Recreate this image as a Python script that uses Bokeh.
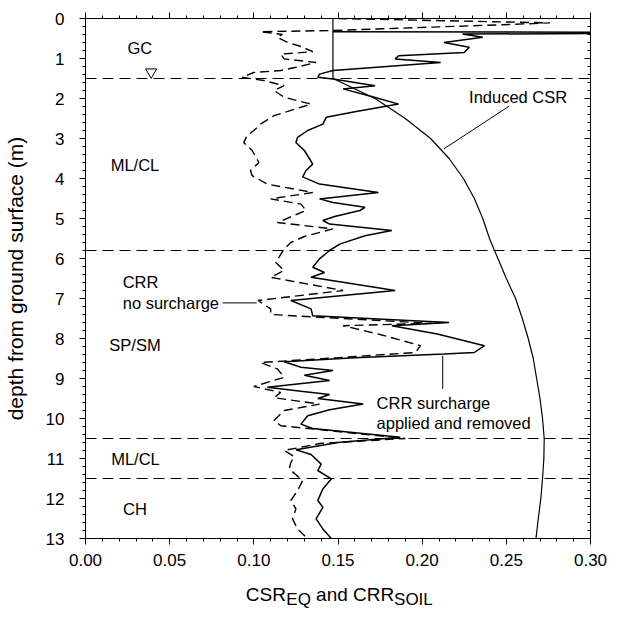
from bokeh.plotting import figure
from bokeh.layouts import column
from bokeh.models import (Range1d, LinearAxis, FixedTicker, NumeralTickFormatter,
                          CustomJSTickFormatter, Label, Span)
from bokeh.core.properties import value
from bokeh.embed import file_html
from bokeh.resources import INLINE

FONT = "Liberation Sans"

# ---------------- data ----------------
# CRR with surcharge applied and removed (solid)
crr_sur_depth = [0.33, 0.345, 0.37, 0.39, 0.47, 0.60, 0.72, 0.85, 0.93, 1.01, 1.10, 1.30, 1.39, 1.47,
                 1.51, 1.68, 1.76, 1.95, 2.14, 2.33, 2.47, 2.64, 2.80, 2.97, 3.10, 3.30, 3.50, 3.64,
                 3.80, 3.96, 4.14, 4.35, 4.51, 4.60, 4.72, 4.80, 4.95, 5.05, 5.14, 5.30, 5.43, 5.64,
                 5.80, 6.01, 6.22, 6.35, 6.47, 6.80, 7.05, 7.26, 7.43, 7.60, 7.68, 7.89, 8.18, 8.35,
                 8.39, 8.48, 8.58, 8.72, 8.80, 8.92, 9.05, 9.22, 9.32, 9.40, 9.50, 9.64, 9.78, 9.93,
                 10.14, 10.25, 10.47, 10.60, 10.78, 10.90, 11.14, 11.30, 11.51, 11.76, 12.05, 12.22,
                 12.51, 12.76, 13.0]
crr_sur = [0.147, 0.32, 0.32, 0.224, 0.236, 0.213, 0.228, 0.225, 0.186, 0.184, 0.211, 0.147, 0.139, 0.138,
           0.147, 0.172, 0.153, 0.170, 0.186, 0.160, 0.143, 0.141, 0.132, 0.126, 0.125, 0.130, 0.133, 0.135,
           0.131, 0.129, 0.139, 0.174, 0.139, 0.147, 0.166, 0.163, 0.148, 0.141, 0.145, 0.182, 0.166, 0.151,
           0.145, 0.139, 0.135, 0.142, 0.134, 0.184, 0.122, 0.134, 0.135, 0.216, 0.182, 0.209, 0.237, 0.231,
           0.213, 0.160, 0.118, 0.128, 0.147, 0.130, 0.145, 0.108, 0.128, 0.145, 0.138, 0.165, 0.145, 0.132,
           0.128, 0.135, 0.187, 0.150, 0.125, 0.134, 0.140, 0.138, 0.146, 0.141, 0.138, 0.141,
           0.137, 0.141, 0.146]

# CRR without surcharge (dashed)
crr_no_depth = [0.00, 0.11, 0.155, 0.30, 0.33, 0.40, 0.47, 0.60, 0.70, 0.83, 0.89, 1.01, 1.10, 1.22,
                1.30, 1.35, 1.47, 1.55, 1.68, 1.80, 1.97, 2.14, 2.43, 2.64, 2.80, 2.93, 3.10, 3.30,
                3.60, 3.80, 3.93, 4.14, 4.35, 4.51, 4.64, 4.80, 4.85, 5.10, 5.26, 5.45, 5.60, 5.76,
                6.10, 6.30, 6.47, 6.80, 7.05, 7.26, 7.40, 7.62, 7.68, 7.90, 8.18, 8.35, 8.48, 8.60,
                8.76, 8.97, 9.20, 9.35, 9.48, 9.64, 9.80, 10.05, 10.18, 10.50, 10.62, 10.80, 10.95,
                11.10, 11.26, 11.55, 11.80, 12.05, 12.26, 12.51, 12.76, 12.97, 13.0]
crr_no = [0.150, 0.276, 0.248, 0.147, 0.104, 0.117, 0.114, 0.120, 0.128, 0.135, 0.116, 0.118, 0.137, 0.125,
          0.116, 0.100, 0.093, 0.106, 0.118, 0.112, 0.118, 0.134, 0.112, 0.104, 0.100, 0.096, 0.094, 0.099,
          0.103, 0.098, 0.099, 0.108, 0.135, 0.110, 0.128, 0.131, 0.128, 0.114, 0.147, 0.130, 0.122, 0.118,
          0.113, 0.118, 0.110, 0.153, 0.1025, 0.110, 0.110, 0.205, 0.153, 0.175, 0.199, 0.196, 0.150, 0.104,
          0.114, 0.118, 0.100, 0.116, 0.112, 0.139, 0.118, 0.112, 0.116, 0.190, 0.140, 0.118, 0.124,
          0.122, 0.121, 0.129, 0.126, 0.122, 0.125, 0.123, 0.126, 0.131, 0.132]

# Induced CSR (smooth solid)
csr_depth = [0.0, 1.5, 2.0, 2.5, 3.0, 3.5, 4.0, 4.5, 5.0, 5.5, 6.0, 6.5, 7.0, 7.5, 8.0, 8.5, 9.0,
             9.5, 10.0, 10.5, 11.0, 11.5, 12.0, 12.5, 13.0]
csr = [0.147, 0.147, 0.172, 0.190, 0.205, 0.216, 0.2245, 0.231, 0.236, 0.240, 0.245, 0.250, 0.2555,
       0.2595, 0.263, 0.266, 0.268, 0.270, 0.2715, 0.2725, 0.2723, 0.2715, 0.2705, 0.269, 0.2676]

# soil layer boundaries (m) and names
layer_bounds = [1.5, 5.8, 10.5, 11.5]
layer_names = ["GC", "ML/CL", "SP/SM", "ML/CL", "CH"]
layer_label_x = [0.0323, 0.0294, 0.0294, 0.0297, 0.0294]
layer_label_depth = [0.74, 3.65, 8.155, 11.01, 12.26]

# water table symbol
wt_x = [0.039]
wt_depth = [1.34]

# ticks
x_major = [0.0, 0.05, 0.10, 0.15, 0.20, 0.25, 0.30]
x_minor = [round(0.01 * i, 2) for i in range(31)]
y_major = list(range(14))
y_minor = [round(0.2 * i, 1) for i in range(66)]

# ---------------- figure ----------------
p = figure(width=607, height=574, output_backend="svg", toolbar_location=None,
           x_range=Range1d(0, 0.30), y_range=Range1d(13, 0),
           x_axis_location=None, y_axis_location=None,
           min_border_left=84, min_border_right=17, min_border_top=18, min_border_bottom=36)
p.grid.visible = False
p.outline_line_color = "black"
p.background_fill_color = "white"
p.border_fill_color = "white"


def make_axis(major, minor, fmt, t_in, t_out, m_in, m_out, standoff):
    return LinearAxis(ticker=FixedTicker(ticks=major, minor_ticks=minor),
                      formatter=fmt,
                      major_tick_in=t_in, major_tick_out=t_out,
                      minor_tick_in=m_in, minor_tick_out=m_out,
                      axis_line_color="black", axis_line_width=1,
                      major_tick_line_color="black", minor_tick_line_color="black",
                      major_label_text_font=FONT, major_label_text_font_size="17px",
                      major_label_text_color="black", major_label_standoff=standoff)


blank = "return ''"
bottom = make_axis(x_major, x_minor, NumeralTickFormatter(format="0.00"), 0, 6, 0, 3, 9)
left = make_axis(y_major, y_minor, NumeralTickFormatter(format="0"), 0, 6, 0, 3, 15)
left.axis_label = "depth from ground surface (m)"
left.axis_label_text_font = FONT
left.axis_label_text_font_size = "21px"
left.axis_label_text_font_style = "normal"
left.axis_label_text_color = "black"
left.axis_label_standoff = 16
top = make_axis(x_major, x_minor, CustomJSTickFormatter(code=blank), 0, 6, 0, 3, 0)
right = make_axis(y_major, y_minor, CustomJSTickFormatter(code=blank), 6, 0, 3, 0, 0)
p.add_layout(bottom, "below")
p.add_layout(left, "left")
p.add_layout(top, "above")
p.add_layout(right, "right")

# layer boundaries
for d in layer_bounds:
    p.add_layout(Span(location=d, dimension="width", line_color="black",
                      line_width=1, line_dash="11 6"))

# curves
p.line(crr_no, crr_no_depth, line_color="black", line_width=1.4, line_dash="9 5")
p.line(crr_sur, crr_sur_depth, line_color="black", line_width=1.5)
p.line(csr, csr_depth, line_color="black", line_width=1.2)

# water table
p.scatter(wt_x, wt_depth, marker="inverted_triangle", size=11,
          fill_color="white", line_color="black", line_width=1)

# layer names
for name, lx, ld in zip(layer_names, layer_label_x, layer_label_depth):
    p.add_layout(Label(x=lx, y=ld, text=name, text_font=FONT, text_font_size="16.5px",
                       text_align="center", text_baseline="middle", text_color="black"))

# annotations
ann_text = ["Induced CSR", "CRR surcharge", "applied and removed", "CRR", "no surcharge"]
ann_x = [0.257, 0.1729, 0.1729, 0.0221, 0.0221]
ann_depth = [1.95, 9.6, 10.1, 6.59, 7.11]
ann_align = ["center", "left", "left", "left", "left"]
for t, ax_, ad, al in zip(ann_text, ann_x, ann_depth, ann_align):
    p.add_layout(Label(x=ax_, y=ad, text=t, text_font=FONT, text_font_size="16.5px",
                       text_align=al, text_baseline="middle", text_color="black"))

# leader lines
leader_x = [[0.2517, 0.2129], [0.2122, 0.2122], [0.0814, 0.1017]]
leader_depth = [[2.19, 3.26], [9.26, 8.43], [7.11, 7.11]]
for lx, ld in zip(leader_x, leader_depth):
    p.line(lx, ld, line_color="black", line_width=1)

# ---------------- x axis title (with subscripts) ----------------
p2 = figure(width=607, height=34, output_backend="svg", toolbar_location=None,
            x_range=p.x_range, y_range=Range1d(0, 34),
            x_axis_location=None, y_axis_location=None,
            min_border_left=84, min_border_right=17, min_border_top=0, min_border_bottom=0)
p2.grid.visible = False
p2.outline_line_color = None
p2.background_fill_color = "white"
p2.border_fill_color = "white"

xt_parts = ["CSR", "EQ", "and CRR", "SOIL"]
xt_x = [0.0952, 0.1193, 0.1370, 0.1833]
xt_y = [14, 9, 14, 9]
xt_size = ["19px", "17px", "19px", "17px"]
for t, xx, yy, ss in zip(xt_parts, xt_x, xt_y, xt_size):
    p2.text(x=[xx], y=[yy], text=[t], text_font=value(FONT), text_font_size=ss,
            text_align="left", text_baseline="alphabetic", text_color="black")

open("out.html", "w").write(file_html(column(p, p2), INLINE))
